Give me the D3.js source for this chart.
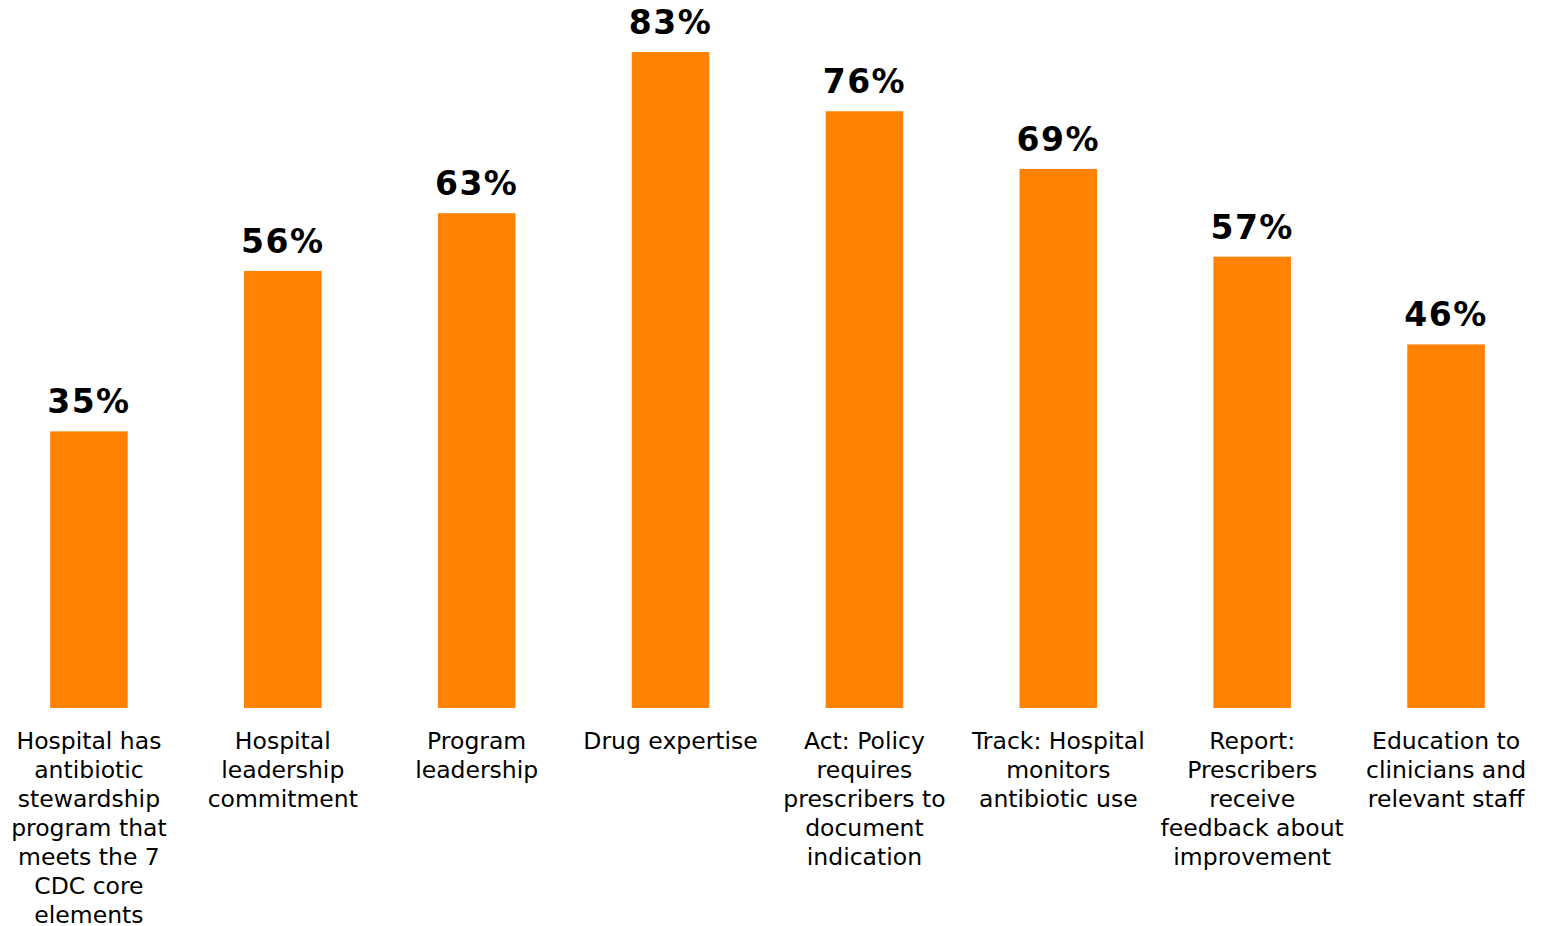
<!DOCTYPE html>
<html>
<head>
<meta charset="utf-8">
<script src="https://cdn.jsdelivr.net/npm/d3@7"></script>
<style>
  body { margin: 0; background: #fff; }
  svg { display: block; }
</style>
</head>
<body>
<svg id="chart"></svg>
<script>
// categories, split into the lines shown under each bar
const categories = [
  ['Hospital has', 'antibiotic', 'stewardship', 'program that', 'meets the 7', 'CDC core', 'elements'],
  ['Hospital', 'leadership', 'commitment'],
  ['Program', 'leadership'],
  ['Drug expertise'],
  ['Act: Policy', 'requires', 'prescribers to', 'document', 'indication'],
  ['Track: Hospital', 'monitors', 'antibiotic use'],
  ['Report:', 'Prescribers', 'receive', 'feedback about', 'improvement'],
  ['Education to', 'clinicians and', 'relevant staff']
]
const values = [35.0, 55.3, 62.6, 83.0, 75.5, 68.2, 57.1, 46.0]
const valueLabels = ['35%', '56%', '63%', '83%', '76%', '69%', '57%', '46%']

let dimensions = {
  width: 1544,
  height: 926,
  baseline: 708
}

let svg = d3.select('#chart')
  .attr('width', dimensions.width)
  .attr('height', dimensions.height)

let ids = categories.map((c, i) => i)

let xScale = d3.scaleBand()
  .domain(ids)
  .range([-8, 1543])
  .paddingInner(0.6)
  .paddingOuter(0.3)

let yScale = d3.scaleLinear()
  .domain([0, 100])
  .range([dimensions.baseline, -82.4])

let bars = svg.selectAll('rect')
  .data(values)
  .enter()
  .append('rect')
  .attr('x', (d, i) => xScale(i))
  .attr('y', d => yScale(d))
  .attr('width', xScale.bandwidth())
  .attr('height', d => dimensions.baseline - yScale(d))
  .attr('fill', '#ff8200')

// value labels above bars
svg.selectAll('text.value')
  .data(values)
  .enter()
  .append('text')
  .attr('class', 'value')
  .attr('x', (d, i) => xScale(i) + xScale.bandwidth() / 2)
  .attr('y', d => yScale(d) - 18)
  .attr('text-anchor', 'middle')
  .style('font-family', '"DejaVu Sans", Verdana, sans-serif')
  .style('font-weight', 'bold')
  .style('font-size', '33px')
  .style('letter-spacing', '1.5px')
  .attr('fill', '#000')
  .text((d, i) => valueLabels[i])

// category labels under bars
let catLabels = svg.selectAll('text.cat')
  .data(categories)
  .enter()
  .append('text')
  .attr('class', 'cat')
  .attr('x', (d, i) => xScale(i) + xScale.bandwidth() / 2)
  .attr('y', dimensions.baseline + 41)
  .attr('text-anchor', 'middle')
  .style('font-family', '"DejaVu Sans", Verdana, sans-serif')
  .style('font-size', '23.5px')
  .attr('fill', '#000')

catLabels.each(function(lines, i) {
  let cx = xScale(i) + xScale.bandwidth() / 2
  d3.select(this).selectAll('tspan')
    .data(lines)
    .enter()
    .append('tspan')
    .attr('x', cx)
    .attr('dy', (l, j) => j == 0 ? 0 : 29)
    .text(l => l)
})
</script>
</body>
</html>
